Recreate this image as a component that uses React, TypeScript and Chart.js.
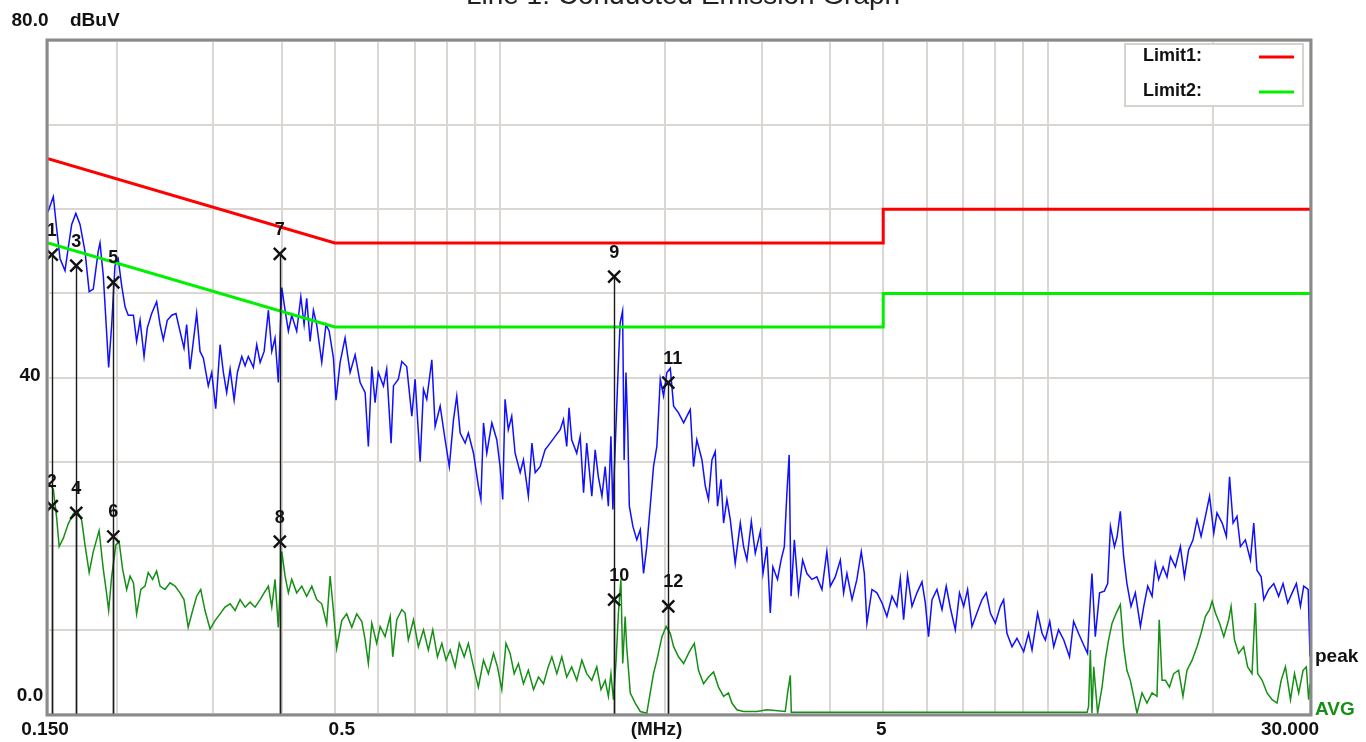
import React, { useEffect, useRef } from 'react';
import { Chart, registerables } from 'chart.js';

Chart.register(...registerables);

// ---- Data (frequencies in MHz, levels in dBuV) ----
const PEAK_FREQ = [
  0.1500, 0.1534, 0.1555, 0.1578, 0.1611, 0.1633, 0.1657, 0.1686, 0.1716, 0.1752,
  0.1783, 0.1814, 0.1852, 0.1866, 0.1892, 0.1918, 0.1935, 0.1960, 0.1987, 0.2014,
  0.2044, 0.2073, 0.2101, 0.2147, 0.2176, 0.2208, 0.2245, 0.2276, 0.2318, 0.2367,
  0.2401, 0.2434, 0.2475, 0.2522, 0.2567, 0.2611, 0.2655, 0.2685, 0.2723, 0.2761,
  0.2800, 0.2840, 0.2880, 0.2940, 0.2983, 0.3033, 0.3089, 0.3132, 0.3176, 0.3222,
  0.3277, 0.3322, 0.3384, 0.3431, 0.3478, 0.3553, 0.3603, 0.3655, 0.3717, 0.3784,
  0.3838, 0.3891, 0.3945, 0.4003, 0.4058, 0.4115, 0.4174, 0.4261, 0.4336, 0.4396,
  0.4444, 0.4508, 0.4571, 0.4634, 0.4734, 0.4819, 0.4884, 0.4972, 0.5026, 0.5113,
  0.5221, 0.5333, 0.5446, 0.5562, 0.5680, 0.5757, 0.5841, 0.5922, 0.6003, 0.6134,
  0.6218, 0.6334, 0.6397, 0.6530, 0.6625, 0.6763, 0.6910, 0.7006, 0.7156, 0.7256,
  0.7356, 0.7515, 0.7620, 0.7783, 0.7946, 0.8087, 0.8231, 0.8344, 0.8465, 0.8643,
  0.8761, 0.8952, 0.9137, 0.9234, 0.9336, 0.9465, 0.9669, 0.9871, 1.001, 1.012,
  1.022, 1.036, 1.051, 1.066, 1.089, 1.104, 1.127, 1.144, 1.160, 1.184,
  1.209, 1.235, 1.261, 1.288, 1.306, 1.324, 1.337, 1.352, 1.381, 1.401,
  1.421, 1.440, 1.471, 1.492, 1.512, 1.535, 1.556, 1.577, 1.594, 1.607,
  1.629, 1.645, 1.657, 1.674, 1.685, 1.698, 1.711, 1.722, 1.748, 1.777,
  1.803, 1.828, 1.853, 1.880, 1.906, 1.933, 1.961, 1.988, 2.016, 2.045,
  2.074, 2.117, 2.163, 2.208, 2.224, 2.255, 2.286, 2.336, 2.369, 2.401,
  2.436, 2.470, 2.494, 2.531, 2.558, 2.594, 2.631, 2.686, 2.744, 2.782,
  2.821, 2.874, 2.922, 2.985, 3.018, 3.069, 3.112, 3.146, 3.208, 3.256,
  3.301, 3.337, 3.369, 3.395, 3.443, 3.503, 3.565, 3.629, 3.707, 3.784,
  3.866, 3.946, 4.004, 4.088, 4.176, 4.234, 4.293, 4.386, 4.477, 4.560,
  4.619, 4.669, 4.769, 4.869, 4.975, 5.078, 5.188, 5.296, 5.372, 5.447,
  5.538, 5.642, 5.760, 5.884, 5.966, 6.048, 6.137, 6.265, 6.400, 6.514,
  6.628, 6.767, 6.887, 7.009, 7.126, 7.258, 7.410, 7.571, 7.706, 7.840,
  8.005, 8.176, 8.290, 8.405, 8.587, 8.766, 9.016, 9.203, 9.339, 9.561,
  9.740, 9.875, 10.06, 10.23, 10.44, 10.67, 10.93, 11.12, 11.35, 11.60,
  11.79, 11.93, 12.01, 12.18, 12.40, 12.65, 12.83, 12.98, 13.20, 13.35,
  13.53, 13.72, 13.91, 14.15, 14.41, 14.72, 14.93, 15.18, 15.46, 15.67,
  15.89, 16.19, 16.46, 16.70, 17.05, 17.41, 17.71, 18.02, 18.36, 18.67,
  18.99, 19.34, 19.68, 20.03, 20.30, 20.75, 21.12, 21.40, 21.72, 22.08,
  22.40, 22.87, 23.36, 23.69, 24.01, 24.44, 24.71, 25.22, 25.77, 26.30,
  26.79, 27.32, 27.83, 28.33, 28.82, 29.22, 29.77, 30.00,
];
const PEAK_LEVEL = [
  59.7, 61.5, 57.8, 54.1, 52.7, 55.4, 58.2, 59.5, 58.2, 55.0,
  50.2, 50.5, 55.0, 56.0, 52.1, 45.5, 41.2, 46.3, 53.3, 54.1,
  50.9, 48.4, 47.4, 47.4, 44.3, 46.8, 42.5, 45.9, 47.6, 49.0,
  46.3, 44.5, 46.8, 47.4, 47.6, 45.5, 43.5, 46.3, 41.0, 44.3,
  47.6, 43.1, 42.3, 39.0, 40.6, 36.3, 43.9, 40.6, 38.2, 41.0,
  37.3, 40.6, 42.5, 41.4, 42.5, 41.2, 43.9, 41.8, 43.1, 48.0,
  43.1, 44.7, 39.4, 50.7, 48.0, 45.5, 47.4, 45.5, 49.6, 46.3,
  49.4, 44.3, 48.0, 46.3, 41.8, 46.3, 45.5, 42.3, 37.3, 41.8,
  44.7, 40.6, 42.7, 39.4, 38.2, 31.8, 41.3, 37.0, 40.6, 39.0,
  41.0, 32.2, 39.0, 39.8, 41.9, 41.3, 35.4, 39.8, 30.0, 38.6,
  37.4, 42.1, 34.2, 36.6, 32.6, 29.4, 35.0, 37.8, 33.4, 32.2,
  33.4, 31.0, 27.1, 25.5, 34.6, 31.0, 34.6, 32.6, 29.4, 25.5,
  37.4, 33.8, 35.4, 31.0, 28.7, 30.2, 25.9, 32.2, 28.7, 29.4,
  31.4, 32.2, 33.0, 33.8, 35.0, 31.8, 36.4, 32.6, 31.0, 33.0,
  26.3, 32.2, 25.9, 31.4, 28.2, 25.9, 29.4, 24.7, 33.0, 24.3,
  34.6, 41.8, 46.5, 47.9, 30.2, 40.6, 33.8, 24.7, 22.3, 20.7,
  21.9, 16.7, 19.9, 24.7, 29.4, 31.8, 39.8, 37.8, 40.6, 41.1,
  36.6, 35.8, 34.6, 35.8, 36.2, 29.4, 32.6, 30.2, 27.1, 25.5,
  30.2, 31.2, 24.7, 27.9, 22.7, 25.5, 23.1, 17.9, 22.7, 19.9,
  18.3, 22.9, 19.1, 21.7, 16.7, 19.9, 12.0, 17.5, 16.0, 18.3,
  19.9, 26.3, 30.8, 14.0, 20.7, 14.4, 18.3, 16.7, 16.0, 16.3,
  14.8, 19.3, 15.2, 16.3, 18.3, 14.4, 16.7, 13.6, 16.0, 19.3,
  16.7, 10.8, 14.8, 14.4, 13.2, 11.6, 14.0, 12.8, 16.1, 11.2,
  16.5, 12.8, 14.4, 15.7, 13.2, 9.2, 13.6, 14.8, 12.4, 15.2,
  12.6, 10.0, 14.4, 12.8, 14.8, 10.4, 12.0, 13.6, 14.4, 12.0,
  10.8, 12.8, 13.6, 9.6, 8.0, 9.0, 7.4, 9.6, 7.6, 12.0,
  9.6, 8.8, 11.0, 8.0, 10.0, 8.8, 6.8, 11.0, 9.6, 8.2,
  7.2, 13.6, 16.7, 9.2, 14.4, 14.6, 15.5, 22.3, 19.9, 21.1,
  24.1, 18.7, 15.5, 12.8, 14.4, 10.4, 12.8, 15.2, 14.0, 17.9,
  16.0, 17.5, 16.3, 18.7, 17.5, 19.9, 16.3, 19.5, 20.7, 23.1,
  21.1, 23.5, 25.9, 21.5, 23.9, 22.7, 21.1, 28.2, 22.7, 23.5,
  19.9, 20.7, 18.3, 22.7, 17.1, 16.3, 13.6, 14.8, 15.5, 14.0,
  15.5, 13.2, 14.4, 15.5, 12.8, 15.2, 14.8, 6.8,
];

const AVG_FREQ = [
  0.1500, 0.1534, 0.1555, 0.1572, 0.1600, 0.1633, 0.1668, 0.1696, 0.1728, 0.1752,
  0.1783, 0.1814, 0.1859, 0.1892, 0.1918, 0.1935, 0.1960, 0.1995, 0.2022, 0.2052,
  0.2087, 0.2117, 0.2147, 0.2176, 0.2215, 0.2254, 0.2285, 0.2327, 0.2367, 0.2401,
  0.2451, 0.2504, 0.2557, 0.2611, 0.2655, 0.2702, 0.2753, 0.2800, 0.2848, 0.2900,
  0.2962, 0.3024, 0.3089, 0.3154, 0.3222, 0.3290, 0.3360, 0.3431, 0.3504, 0.3578,
  0.3655, 0.3717, 0.3784, 0.3838, 0.3891, 0.3945, 0.4003, 0.4058, 0.4115, 0.4174,
  0.4261, 0.4353, 0.4444, 0.4540, 0.4634, 0.4734, 0.4833, 0.4903, 0.4972, 0.5040,
  0.5149, 0.5256, 0.5370, 0.5482, 0.5601, 0.5680, 0.5757, 0.5841, 0.5962, 0.6049,
  0.6176, 0.6309, 0.6378, 0.6486, 0.6625, 0.6717, 0.6809, 0.6958, 0.7102, 0.7256,
  0.7406, 0.7545, 0.7694, 0.7838, 0.7977, 0.8117, 0.8287, 0.8434, 0.8609, 0.8761,
  0.8952, 0.9137, 0.9336, 0.9529, 0.9736, 0.9900, 1.008, 1.026, 1.044, 1.062,
  1.081, 1.104, 1.127, 1.152, 1.176, 1.201, 1.225, 1.244, 1.270, 1.297,
  1.324, 1.352, 1.381, 1.411, 1.440, 1.471, 1.502, 1.529, 1.556, 1.577,
  1.594, 1.611, 1.629, 1.645, 1.662, 1.675, 1.692, 1.703, 1.729, 1.765,
  1.803, 1.853, 1.880, 1.906, 1.933, 1.975, 2.010, 2.045, 2.074, 2.117,
  2.163, 2.208, 2.224, 2.262, 2.302, 2.352, 2.401, 2.453, 2.504, 2.558,
  2.611, 2.649, 2.705, 2.782, 2.942, 3.069, 3.314, 3.347, 3.385, 3.399,
  5.372, 8.176, 11.77, 11.84, 11.93, 12.01, 12.10, 12.30, 12.53, 12.70,
  12.88, 13.07, 13.30, 13.53, 13.72, 13.91, 14.11, 14.31, 14.51, 14.82,
  15.13, 15.46, 15.78, 15.93, 16.12, 16.35, 16.63, 16.93, 17.28, 17.60,
  17.90, 18.29, 18.67, 18.99, 19.34, 19.68, 19.89, 20.17, 20.52, 20.89,
  21.32, 21.54, 21.85, 22.23, 22.71, 23.09, 23.52, 23.85, 24.08, 24.54,
  25.05, 25.59, 26.12, 26.58, 27.06, 27.64, 28.11, 28.61, 29.14, 29.54,
  29.83, 30.00,
];
const AVG_LEVEL = [
  27.5, 26.7, 23.4, 19.9, 20.9, 22.6, 23.8, 24.2, 23.0, 20.1,
  16.8, 19.3, 21.8, 17.2, 14.4, 12.3, 16.4, 20.1, 20.5, 17.2,
  14.8, 16.4, 15.6, 11.9, 14.8, 15.2, 16.8, 16.0, 17.0, 15.2,
  14.8, 15.6, 15.2, 14.4, 13.6, 10.3, 12.3, 14.0, 14.8, 12.3,
  10.1, 11.1, 11.9, 12.7, 13.1, 12.3, 13.6, 12.7, 13.3, 12.7,
  13.6, 14.4, 15.2, 12.7, 16.0, 10.3, 19.3, 16.4, 14.4, 16.0,
  14.4, 15.2, 14.0, 15.2, 13.6, 13.1, 10.7, 16.4, 12.3, 7.8,
  11.1, 11.9, 10.3, 11.9, 11.0, 8.8, 6.0, 10.8, 8.4, 10.4,
  9.2, 11.6, 6.8, 11.2, 12.4, 12.0, 8.8, 11.2, 8.0, 10.0,
  7.6, 10.0, 6.8, 8.4, 6.4, 7.6, 5.6, 8.4, 6.8, 8.4,
  5.6, 3.2, 6.4, 4.8, 7.2, 5.6, 2.9, 8.4, 7.2, 4.8,
  6.0, 3.6, 5.2, 2.9, 4.4, 3.6, 5.6, 6.8, 4.8, 6.8,
  4.4, 5.6, 4.0, 6.4, 4.8, 4.0, 5.6, 2.9, 4.0, 2.1,
  4.8, 1.7, 6.4, 12.0, 16.0, 6.0, 11.6, 8.0, 2.5, 1.3,
  0.3, 0.1, 2.5, 4.8, 6.4, 9.2, 10.4, 9.6, 8.0, 6.8,
  6.0, 7.2, 7.6, 8.4, 5.2, 3.6, 4.4, 5.0, 3.2, 2.1,
  2.5, 1.3, 0.5, 0.3, 0.3, 0.5, 0.3, 2.5, 4.6, 0.2,
  0.2, 0.2, 0.2, 0.9, 7.6, 0.1, 5.6, 0.1, 3.2, 6.4,
  8.8, 10.8, 12.0, 13.0, 8.0, 5.2, 4.0, 2.1, 0.1, 2.5,
  1.3, 2.5, 2.1, 11.2, 4.0, 4.0, 3.2, 4.8, 5.2, 2.1,
  5.2, 6.4, 8.0, 9.6, 11.6, 12.4, 13.4, 12.0, 10.8, 9.2,
  11.2, 12.8, 8.8, 7.2, 8.0, 5.6, 4.8, 13.2, 4.8, 4.0,
  2.5, 1.7, 1.3, 4.0, 5.6, 1.7, 4.8, 2.5, 5.2, 5.6,
  1.7, 3.6,
];

const LIMIT_FREQ = [0.15, 0.5, 5, 5, 30];
const LIMIT1_LEVEL = [66, 56, 56, 60, 60];
const LIMIT2_LEVEL = [56, 46, 46, 50, 50];

const MARKER_NAME = ['1', '2', '3', '4', '5', '6', '7', '8', '9', '10', '11', '12'];
const MARKER_FREQ = [0.1524, 0.1524, 0.1689, 0.1689, 0.1973, 0.1973, 0.3970, 0.3970, 1.616, 1.616, 2.028, 2.028];
const MARKER_LEVEL = [54.6, 24.7, 53.3, 23.9, 51.3, 21.1, 54.7, 20.5, 52.0, 13.6, 39.4, 12.8];

const GRID_FREQ = [0.15, 0.2, 0.3, 0.4, 0.5, 0.6, 0.7, 0.8, 0.9, 1, 2, 3, 4, 5, 6, 7, 8, 9, 10, 20, 30];
const X_LABEL_FREQ = [0.15, 0.5, 5, 30];
const X_LABEL_TEXT = ['0.150', '0.5', '5', '30.000'];
const Y_LABEL_LEVEL = [80, 40, 0];
const Y_LABEL_TEXT = ['80.0', '40', '0.0'];

const TITLE = 'Line 1: Conducted Emission Graph';
const UNIT_Y = 'dBuV';
const UNIT_X = '(MHz)';
const LEGEND_NAMES = ['Limit1:', 'Limit2:'];

const RED = '#ff0000';
const LIME = '#00f000';
const BLUE = '#1010ff';
const DGREEN = '#158f15';
const FONT = '"Liberation Sans", Arial, sans-serif';

const pts = (xs: number[], ys: number[]) => xs.map((x, i) => ({ x, y: ys[i] }));

const decorPlugin = {
  id: 'emcDecor',
  beforeDraw(chart: any) {
    const ctx = chart.ctx;
    ctx.save();
    ctx.fillStyle = '#ffffff';
    ctx.fillRect(0, 0, chart.width, chart.height);
    ctx.restore();
  },
  afterDatasetsDraw(chart: any) {
    const ctx = chart.ctx;
    const xs = chart.scales.x;
    const ys = chart.scales.y;
    const area = chart.chartArea;
    ctx.save();
    ctx.strokeStyle = '#1a1a1a';
    ctx.lineWidth = 1.4;
    MARKER_FREQ.forEach((f, i) => {
      const px = Math.round(xs.getPixelForValue(f)) + 0.5;
      const py = ys.getPixelForValue(MARKER_LEVEL[i]);
      ctx.beginPath();
      ctx.moveTo(px, py);
      ctx.lineTo(px, area.bottom);
      ctx.stroke();
    });
    ctx.fillStyle = '#111';
    ctx.font = `bold 18px ${FONT}`;
    ctx.textAlign = 'left';
    ctx.textBaseline = 'middle';
    MARKER_FREQ.forEach((f, i) => {
      const px = xs.getPixelForValue(f);
      const py = ys.getPixelForValue(MARKER_LEVEL[i]);
      ctx.fillText(MARKER_NAME[i], px - 5, py - 24);
    });
    ctx.restore();
  },
  afterDraw(chart: any) {
    const ctx = chart.ctx;
    const xs = chart.scales.x;
    const ys = chart.scales.y;
    const area = chart.chartArea;
    ctx.save();
    ctx.strokeStyle = '#8a8a8a';
    ctx.lineWidth = 3;
    ctx.strokeRect(area.left - 1, area.top - 1, area.right - area.left + 2, area.bottom - area.top + 2);

    ctx.fillStyle = '#222';
    ctx.font = `28px ${FONT}`;
    ctx.textAlign = 'center';
    ctx.textBaseline = 'alphabetic';
    ctx.fillText(TITLE, chart.width / 2, 4);

    ctx.fillStyle = '#111';
    ctx.font = `bold 19px ${FONT}`;
    ctx.textBaseline = 'middle';
    ctx.textAlign = 'center';
    const yOff = [-20, -2, -18];
    Y_LABEL_LEVEL.forEach((v, i) => {
      ctx.fillText(Y_LABEL_TEXT[i], 30, ys.getPixelForValue(v) + yOff[i]);
    });
    ctx.textAlign = 'left';
    ctx.fillText(UNIT_Y, 70, ys.getPixelForValue(80) - 20);

    ctx.textAlign = 'center';
    const xOff = [-3, 7, -2, -20];
    X_LABEL_FREQ.forEach((f, i) => {
      ctx.fillText(X_LABEL_TEXT[i], xs.getPixelForValue(f) + xOff[i], area.bottom + 16);
    });
    ctx.fillText(UNIT_X, xs.getPixelForValue(1.93), area.bottom + 16);

    ctx.textAlign = 'left';
    ctx.fillStyle = '#111';
    ctx.fillText('peak', area.right + 5, area.bottom - 57);
    ctx.fillStyle = DGREEN;
    ctx.fillText('AVG', area.right + 5, area.bottom - 4);

    const bx = area.right - 185;
    const by = area.top + 3;
    ctx.fillStyle = '#ffffff';
    ctx.fillRect(bx, by, 178, 62);
    ctx.strokeStyle = '#d6d3cf';
    ctx.lineWidth = 2;
    ctx.strokeRect(bx, by, 178, 62);
    ctx.font = `bold 18px ${FONT}`;
    ctx.fillStyle = '#111';
    const lc = [RED, LIME];
    LEGEND_NAMES.forEach((n, i) => {
      const ly = by + 12 + i * 35;
      ctx.fillText(n, bx + 18, ly);
      ctx.strokeStyle = lc[i];
      ctx.lineWidth = 3;
      ctx.beginPath();
      ctx.moveTo(bx + 134, ly + 1);
      ctx.lineTo(bx + 169, ly + 1);
      ctx.stroke();
    });
    ctx.restore();
  },
};

export default function App() {
  const ref = useRef<HTMLCanvasElement | null>(null);
  useEffect(() => {
    document.body.style.margin = '0';
    const canvas = ref.current;
    if (!canvas) return;
    const chart = new Chart(canvas, {
      type: 'scatter',
      data: {
        datasets: [
          {
            label: 'markers',
            data: pts(MARKER_FREQ, MARKER_LEVEL),
            showLine: false,
            pointStyle: 'crossRot',
            pointRadius: 8.5,
            pointBorderWidth: 2.4,
            borderColor: '#111',
            backgroundColor: '#111',
            order: 0,
          },
          {
            label: 'Limit1',
            data: pts(LIMIT_FREQ, LIMIT1_LEVEL),
            showLine: true,
            borderColor: RED,
            borderWidth: 3,
            pointRadius: 0,
            order: 1,
          },
          {
            label: 'Limit2',
            data: pts(LIMIT_FREQ, LIMIT2_LEVEL),
            showLine: true,
            borderColor: LIME,
            borderWidth: 3,
            pointRadius: 0,
            order: 2,
          },
          {
            label: 'peak',
            data: pts(PEAK_FREQ, PEAK_LEVEL),
            showLine: true,
            borderColor: BLUE,
            borderWidth: 1.5,
            pointRadius: 0,
            order: 3,
          },
          {
            label: 'AVG',
            data: pts(AVG_FREQ, AVG_LEVEL),
            showLine: true,
            borderColor: DGREEN,
            borderWidth: 1.5,
            pointRadius: 0,
            order: 4,
          },
        ],
      },
      options: {
        responsive: false,
        animation: false,
        layout: { padding: { left: 48, right: 56, top: 41, bottom: 28 } },
        plugins: {
          legend: { display: false },
          tooltip: { enabled: false },
          title: { display: false },
        },
        scales: {
          x: {
            type: 'logarithmic',
            min: 0.15,
            max: 30,
            afterBuildTicks: (scale: any) => {
              scale.ticks = GRID_FREQ.map((v) => ({ value: v }));
            },
            ticks: { display: false },
            grid: { color: '#dad6d1', lineWidth: 2, drawTicks: false },
            border: { display: false },
          },
          y: {
            type: 'linear',
            min: 0,
            max: 80,
            ticks: { display: false, stepSize: 10 },
            grid: { color: '#dad6d1', lineWidth: 2, drawTicks: false },
            border: { display: false },
          },
        },
      },
      plugins: [decorPlugin],
    } as any);
    return () => chart.destroy();
  }, []);
  return (
    <canvas
      ref={ref}
      width={1366}
      height={742}
      style={{ display: 'block', width: 1366, height: 742 }}
    />
  );
}
